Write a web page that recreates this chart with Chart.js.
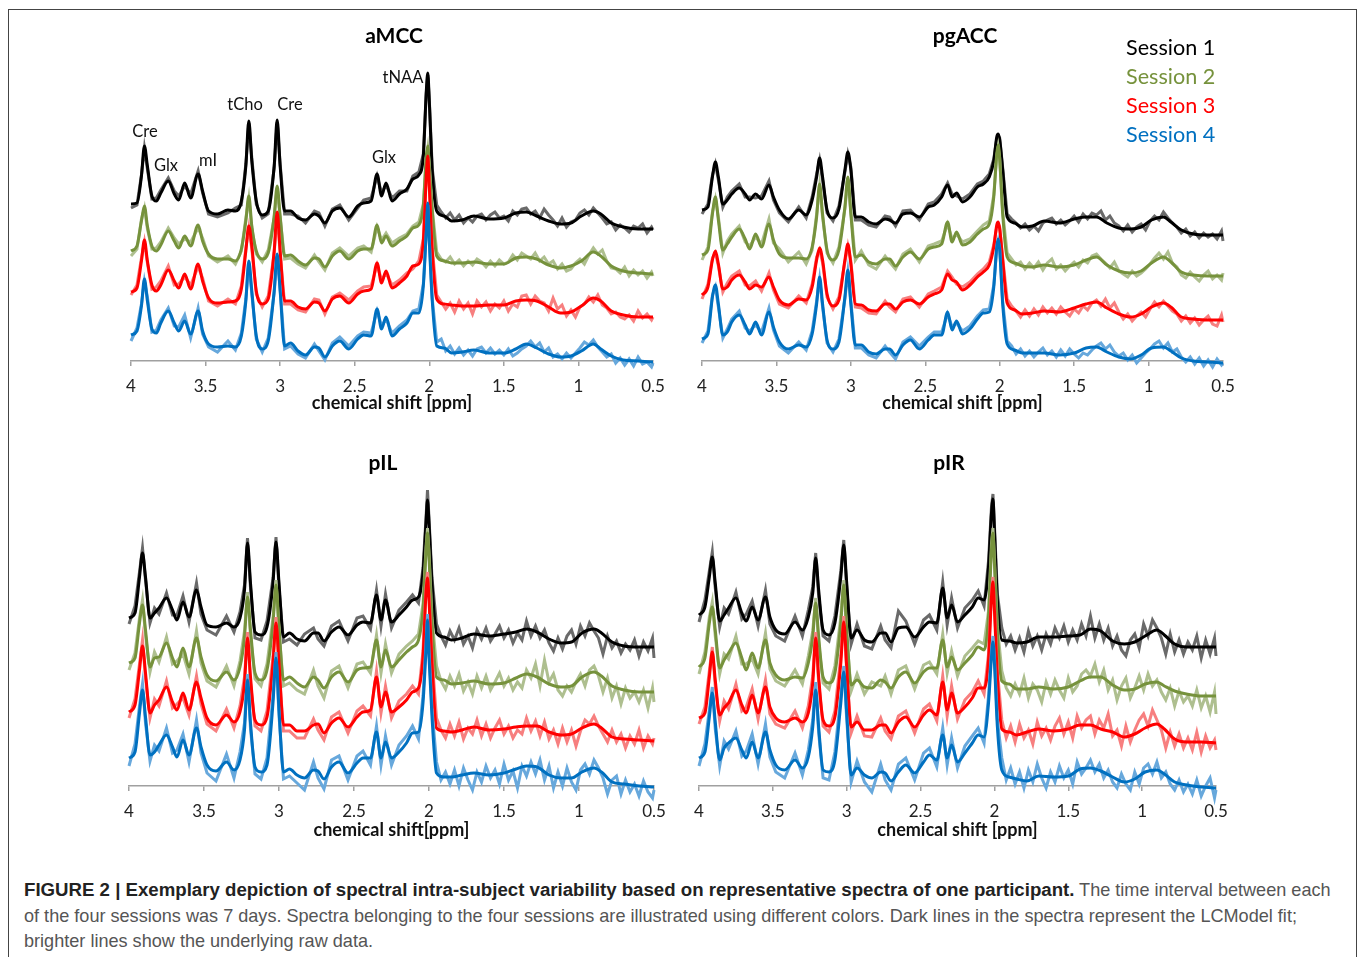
<!DOCTYPE html>
<html>
<head>
<meta charset="utf-8">
<title>Figure 2</title>
<script src="https://cdn.jsdelivr.net/npm/chart.js@4"></script>
<style>
html, body { margin: 0; padding: 0; background: #fff; width: 1358px; height: 957px; overflow: hidden; }
#frame { position: absolute; left: 8px; top: 9px; width: 1347px; height: 970px; border: 1px solid #444; }
canvas { position: absolute; }
.txt { position: absolute; font-family: Lato, sans-serif; color: #111; white-space: nowrap; transform: translate(-50%, -50%); }
.ttl { font-size: 21px; font-weight: bold; color: #000; }
.ann { font-size: 16.5px; }
.leg { font-size: 21.6px; transform: translate(0, -50%); }
#caption { position: absolute; left: 24px; top: 877px; width: 1320px; font-family: "Liberation Sans", Arial, sans-serif; font-size: 18.1px; line-height: 25.5px; color: #555; }
#caption b { color: #222; font-size: 18.65px; }
</style>
</head>
<body>
<div id="frame"></div>
<canvas id="c_aMCC"></canvas>
<canvas id="c_pgACC"></canvas>
<canvas id="c_pIL"></canvas>
<canvas id="c_pIR"></canvas>

<div class="txt ttl" style="left:394px;top:34px">aMCC</div>
<div class="txt ttl" style="left:965px;top:34px">pgACC</div>
<div class="txt ttl" style="left:383px;top:461px">pIL</div>
<div class="txt ttl" style="left:949px;top:461px">pIR</div>

<div class="txt ann" style="left:145px;top:131px">Cre</div>
<div class="txt ann" style="left:166px;top:165px">Glx</div>
<div class="txt ann" style="left:208px;top:160px">mI</div>
<div class="txt ann" style="left:245px;top:104px">tCho</div>
<div class="txt ann" style="left:290px;top:104px">Cre</div>
<div class="txt ann" style="left:384px;top:157px">Glx</div>
<div class="txt ann" style="left:403px;top:77px">tNAA</div>

<div class="txt leg" style="left:1126px;top:47px;color:#000">Session 1</div>
<div class="txt leg" style="left:1126px;top:76px;color:#76923c">Session 2</div>
<div class="txt leg" style="left:1126px;top:105px;color:#ff0000">Session 3</div>
<div class="txt leg" style="left:1126px;top:134px;color:#0070c0">Session 4</div>

<div id="caption"><b>FIGURE 2 | Exemplary depiction of spectral intra-subject variability based on representative spectra of one participant.</b> The time interval between each<br>of the four sessions was 7 days. Spectra belonging to the four sessions are illustrated using different colors. Dark lines in the spectra represent the LCModel fit;<br>brighter lines show the underlying raw data.</div>

<script>
// chemical shift positions, picked denser around the peaks
var fitPpm = [4.0,3.96,3.93,3.91,3.89,3.86,3.83,3.8,3.75,3.71,3.68,3.64,3.6,3.55,3.52,
    3.48,3.42,3.35,3.3,3.26,3.23,3.21,3.19,3.16,3.12,3.08,3.04,3.02,3.0,2.97,
    2.93,2.88,2.83,2.77,2.74,2.7,2.65,2.6,2.54,2.48,2.44,2.39,2.35,2.32,2.29,
    2.25,2.2,2.15,2.11,2.07,2.04,2.02,2.01,2.0,1.98,1.95,1.9,1.85,1.78,1.7,
    1.6,1.5,1.42,1.35,1.28,1.2,1.12,1.05,0.98,0.9,0.85,0.78,0.7,0.6,0.5];
var rawPpm = [4.0,3.96,3.93,3.91,3.89,3.86,3.83,3.8,3.75,3.71,3.68,3.64,3.6,3.55,3.52,
    3.48,3.42,3.35,3.3,3.26,3.23,3.21,3.19,3.16,3.12,3.08,3.04,3.02,3.0,2.97,
    2.93,2.88,2.83,2.77,2.74,2.7,2.65,2.6,2.54,2.48,2.44,2.39,2.35,2.32,2.29,
    2.25,2.2,2.15,2.11,2.07,2.04,2.02,2.01,2.0,1.98,
    1.95,1.92,1.89,1.86,1.83,1.8,1.77,1.74,1.71,1.68,
    1.65,1.62,1.59,1.56,1.53,1.5,1.47,1.44,1.41,1.38,
    1.35,1.32,1.29,1.26,1.23,1.2,1.17,1.14,1.11,1.08,
    1.05,1.02,0.99,0.96,0.93,0.9,0.87,0.84,0.81,0.78,
    0.75,0.72,0.69,0.66,0.63,0.6,0.57,0.54,0.51,0.5];
var xTicks = [4,3.5,3,2.5,2,1.5,1,0.5];
var sessions = ["Session 1","Session 2","Session 3","Session 4"];
var fitColors = ["#000000","#76923c","#ff0000","#0070c0"];
var rawColors = ["#6a6a6a","#aebf8f","#f77f7f","#67a8dc"];

// aMCC
var aMCC_fit1 = [157,158,185,215,195,165,160,168,180,167,161,178,163,187,170,
    150,147,151,150,160,195,240,200,160,146,150,195,241,195,150,
    150,143,141,147,145,138,150,153,144,155,158,160,187,165,178,
    160,167,172,182,186,205,270,288,260,190,150,145,140,141,145,
    142,143,148,149,145,140,137,138,145,150,147,138,134,132,132];
var aMCC_raw1 = [153,156,186,213,192,162,163,171,183,170,165,175,167,190,168,
    147,144,148,153,156,197,238,203,157,143,147,193,239,197,147,
    147,145,138,150,148,135,152,156,141,153,161,163,185,168,176,
    163,170,170,185,189,207,268,286,262,192,
    156,149,143,148,141,146,138,143,139,145,
    147,141,146,149,143,145,140,150,146,152,
    153,147,150,143,152,146,141,135,143,134,
    139,141,148,151,146,153,148,143,137,139,
    131,136,133,129,135,133,137,128,134,131];
var aMCC_fit2 = [110,115,140,155,135,115,110,116,130,120,113,125,115,136,120,
    107,102,102,100,112,140,165,135,110,102,108,145,175,145,105,
    106,100,96,103,102,94,105,110,102,110,112,112,136,118,125,
    115,120,125,133,136,155,205,215,195,150,105,100,98,98,99,
    97,97,103,104,102,96,93,95,100,109,105,95,90,88,87];
var aMCC_raw2 = [105,112,142,153,132,112,113,119,133,123,117,122,119,133,123,
    105,99,105,97,110,143,163,133,107,99,111,143,173,143,102,
    103,97,93,106,99,91,108,113,105,113,115,109,134,121,128,
    118,123,127,135,139,157,203,213,197,152,
    109,102,99,104,97,101,95,100,96,102,
    99,94,100,95,101,97,99,106,101,108,
    105,102,108,100,104,97,100,92,97,90,
    92,98,102,97,106,113,107,111,100,93,
    92,88,94,85,91,86,90,83,89,85];
var aMCC_fit3 = [69,73,100,121,100,76,70,76,91,80,73,87,72,97,80,
    63,58,59,60,72,110,135,115,70,57,62,110,149,110,60,
    60,54,52,59,58,50,62,65,58,67,70,72,98,78,90,
    73,78,85,95,97,120,185,205,175,110,62,57,56,55,55,
    56,56,60,61,60,54,48,49,55,63,60,50,46,44,44];
var aMCC_raw3 = [66,76,103,119,98,72,74,80,95,76,77,84,76,94,83,
    60,55,62,57,75,113,133,112,67,54,65,108,147,108,57,
    57,51,49,62,61,47,64,68,61,70,74,75,96,81,88,
    76,81,88,92,100,122,183,203,177,112,
    66,59,52,58,49,60,52,58,47,60,
    54,59,50,57,53,60,50,57,54,65,
    66,57,65,60,58,50,63,52,56,45,
    51,44,54,57,64,59,66,56,53,47,
    49,44,42,46,40,50,43,47,41,44];
var aMCC_fit4 = [26,30,55,82,60,32,28,38,50,38,30,40,27,50,30,
    17,14,15,14,25,60,100,70,25,12,20,70,107,70,15,
    18,10,6,14,13,4,15,20,12,22,26,25,52,32,44,
    25,32,38,48,48,75,130,158,120,60,15,13,8,9,11,
    8,8,12,17,13,7,4,5,10,17,12,5,1,0,-1];
var aMCC_raw4 = [20,33,57,80,64,29,31,41,53,35,34,46,23,53,27,
    14,9,20,11,28,62,98,67,22,9,23,68,105,72,12,
    15,7,3,17,10,1,18,24,15,25,29,28,50,35,42,
    28,35,41,50,52,77,128,156,122,62,
    19,22,10,15,7,13,6,11,5,12,
    14,8,13,7,11,6,12,5,8,12,
    15,20,14,18,9,13,4,7,2,8,
    3,8,13,19,16,21,14,9,4,7,
    -2,3,-4,2,-5,4,-3,-1,-6,-2];

// pgACC
var pgACC_fit1 = [151,154,184,199,184,157,161,167,173,167,161,167,162,176,164,
    151,142,151,146,161,184,203,184,151,143,152,191,209,191,144,
    144,139,137,142,141,138,147,148,144,154,156,164,176,164,168,
    159,164,174,177,184,200,224,227,221,191,144,138,134,135,140,
    138,142,144,144,138,133,132,134,141,144,139,131,127,126,126];
var pgACC_raw1 = [147,157,186,197,181,154,164,170,177,164,164,163,165,180,161,
    148,139,154,143,164,187,201,181,148,140,155,189,207,194,141,
    141,136,134,145,144,135,150,151,141,157,159,167,178,167,165,
    162,167,177,180,187,202,222,225,223,193,
    147,142,138,133,137,131,135,130,138,141,
    143,137,141,136,140,145,139,147,142,148,
    146,150,141,145,138,135,130,136,129,134,
    137,131,140,145,141,149,143,138,134,128,
    132,125,129,123,128,124,127,122,130,120];
var pgACC_fit2 = [106,111,147,164,141,111,117,124,132,122,112,127,114,137,121,
    107,103,103,102,114,144,177,147,111,101,111,154,184,147,104,
    106,99,97,102,102,95,104,109,102,112,114,117,139,119,129,
    116,119,127,132,137,164,207,216,201,147,104,98,95,94,96,
    94,96,101,104,96,90,88,90,98,104,99,89,86,85,85];
var pgACC_raw2 = [101,114,149,162,144,108,120,127,135,119,115,124,117,142,118,
    112,99,109,97,111,147,175,144,108,98,114,152,182,150,101,
    110,96,92,105,99,92,107,112,99,115,117,120,137,122,127,
    119,122,130,136,140,166,205,214,203,149,
    108,102,96,99,92,98,93,99,91,98,
    102,92,96,90,95,99,94,101,98,105,
    107,102,98,93,99,90,87,84,90,85,
    88,92,97,103,108,102,109,98,94,86,
    83,89,84,80,86,90,82,86,81,88];
var pgACC_fit3 = [66,74,101,110,97,72,74,81,86,79,72,76,74,84,74,
    61,56,62,61,74,101,113,101,67,55,61,101,117,97,57,
    56,51,50,57,57,52,59,61,57,64,67,71,87,81,79,
    71,76,84,89,96,114,136,139,132,101,58,51,47,48,50,
    49,53,57,59,53,47,44,47,54,58,54,44,42,41,41];
var pgACC_raw3 = [62,77,103,108,95,69,78,85,90,76,75,80,70,88,71,
    57,53,65,58,77,104,111,98,64,52,64,99,115,100,54,
    53,48,47,60,54,49,62,64,54,67,70,74,90,84,77,
    74,79,87,92,99,116,134,137,134,103,
    62,55,50,44,51,45,52,46,54,48,
    53,47,54,49,45,52,48,55,51,58,
    61,55,62,53,58,49,42,47,40,45,
    49,44,52,59,54,60,55,50,47,40,
    45,38,43,36,41,45,37,35,46,39];
var pgACC_fit4 = [22,27,64,76,57,26,29,39,46,36,27,39,26,49,34,
    19,12,16,14,27,57,84,57,21,12,19,64,91,57,16,
    16,9,7,12,12,6,16,21,12,21,26,26,49,31,40,
    27,32,42,48,49,74,114,122,111,57,17,11,8,8,8,
    6,8,13,14,9,4,2,6,13,14,10,3,0,-1,-2];
var pgACC_raw4 = [18,30,66,74,54,23,32,42,50,33,30,36,29,53,31,
    15,8,19,11,30,60,82,54,18,9,22,62,89,60,13,
    13,6,3,15,9,2,19,24,15,24,29,29,47,34,38,
    30,35,45,51,52,76,112,120,113,59,
    20,15,7,12,5,10,4,9,13,6,
    10,4,11,5,12,7,3,8,6,11,
    15,18,12,16,9,5,8,1,6,-2,
    3,8,12,17,20,13,18,9,12,4,
    -1,4,-3,3,-5,1,-6,2,-4,-2];

// pIL
var pIL_fit1 = [168,173,209,233,209,168,173,178,188,176,166,184,169,196,179,
    161,159,163,159,168,196,243,203,154,151,159,203,244,203,149,
    153,147,145,153,153,145,154,159,151,161,164,163,191,166,186,
    164,171,179,186,189,213,263,286,263,203,153,149,146,148,152,
    150,152,154,157,154,147,143,144,153,157,153,144,140,139,139];
var pIL_raw1 = [162,180,214,238,206,163,178,172,193,171,171,190,164,203,172,
    156,151,170,154,174,201,248,198,148,146,165,208,249,198,144,
    147,141,152,158,147,140,160,165,145,168,170,157,196,160,192,
    158,176,184,191,183,218,268,296,268,208,
    162,150,141,155,146,158,142,150,138,156,
    147,158,145,152,160,148,156,143,153,146,
    165,150,160,148,156,143,135,148,137,150,
    156,142,160,150,163,155,148,132,150,138,
    145,133,142,136,146,130,144,135,148,128];
var pIL_fit2 = [123,128,163,181,156,119,128,129,143,128,119,138,119,148,129,
    111,105,114,106,119,149,189,156,113,106,116,163,201,159,106,
    109,103,99,109,106,98,109,114,104,116,118,119,146,119,136,
    119,126,134,139,146,176,233,253,229,163,109,106,102,103,105,
    102,103,108,112,109,102,99,100,109,114,110,100,96,94,94];
var pIL_raw2 = [116,133,168,186,151,114,134,124,149,122,125,132,112,155,123,
    105,99,120,100,125,155,194,150,107,100,122,168,206,154,100,
    103,96,92,116,100,88,115,120,98,122,124,113,151,113,142,
    113,132,140,145,152,182,238,258,234,168,
    120,105,97,110,100,112,95,104,92,110,
    98,110,96,104,113,100,108,96,104,98,
    116,108,122,100,126,104,112,96,90,100,
    94,104,112,100,116,120,110,94,108,88,
    100,82,98,88,94,84,96,78,98,84];
var pIL_fit3 = [74,81,116,140,113,73,81,86,99,84,76,93,76,104,88,
    68,61,71,64,74,103,148,109,66,61,69,123,163,123,61,
    61,55,55,61,62,53,63,68,59,69,74,76,109,79,94,
    74,79,86,94,98,129,193,208,186,123,58,55,54,56,59,
    56,57,59,60,60,54,51,52,58,62,58,49,47,46,45];
var pIL_raw3 = [68,87,122,146,108,68,87,80,105,78,82,88,71,110,82,
    62,55,77,58,80,109,154,103,60,55,75,129,169,117,55,
    55,48,48,67,56,46,69,74,53,75,80,70,115,73,100,
    68,85,92,100,92,135,199,214,192,129,
    68,56,48,62,50,64,47,58,52,66,
    50,62,48,58,66,52,60,48,56,52,
    68,55,65,50,64,47,56,42,58,44,
    56,40,55,66,62,70,60,52,44,56,
    44,52,38,50,42,56,38,50,42,48];
var pIL_fit4 = [28,34,73,96,69,31,34,41,51,39,29,46,31,58,39,
    21,15,24,16,26,56,106,63,19,14,21,83,128,76,14,
    17,11,8,16,15,7,19,24,13,23,28,28,54,28,44,
    28,34,43,53,54,83,136,166,129,69,13,9,9,11,13,
    11,13,17,20,19,11,8,8,14,18,14,4,2,0,-1];
var pIL_raw4 = [20,42,80,102,63,25,41,35,58,33,36,52,24,66,33,
    13,5,32,8,34,63,112,57,12,7,28,90,134,70,7,
    10,3,-4,24,8,-3,26,30,6,30,35,21,60,21,50,
    21,41,50,60,47,90,142,172,135,76,
    24,6,14,2,16,0,18,6,-4,14,
    4,20,8,16,2,22,6,15,-2,20,
    10,24,12,26,6,20,-2,14,0,18,
    4,-4,16,22,12,26,18,8,-8,6,
    10,-8,6,-6,2,-10,5,-6,-12,-4];

// pIR
var pIR_fit1 = [171,179,209,229,203,165,171,178,188,173,165,179,166,189,169,
    156,152,164,156,169,193,228,196,156,151,163,209,241,203,148,
    156,146,144,153,153,144,158,159,149,159,164,163,198,168,181,
    164,171,179,188,186,219,273,287,256,186,146,145,143,144,149,
    149,150,151,157,155,145,142,144,150,156,151,142,139,139,139];
var pIR_raw1 = [164,186,215,234,198,159,178,172,194,167,172,185,160,196,162,
    150,145,170,150,176,199,233,190,150,145,170,215,246,198,142,
    162,140,137,160,146,138,175,165,142,166,171,156,204,161,188,
    158,178,186,195,180,225,279,292,261,192,
    158,142,150,136,148,134,155,140,150,136,
    152,142,158,148,160,144,156,146,162,150,
    170,148,162,146,158,140,150,136,130,146,
    152,138,162,150,166,158,148,132,152,134,
    146,132,144,136,150,128,146,132,148,130];
var pIR_fit2 = [119,128,163,179,156,118,126,133,143,128,116,133,118,146,123,
    111,106,109,108,123,149,183,149,109,103,113,163,201,156,101,
    106,99,98,106,104,98,109,114,103,114,118,118,146,119,129,
    116,123,131,139,136,169,236,253,223,153,105,102,97,97,99,
    97,99,105,109,109,101,96,97,102,104,100,95,92,90,90];
var pIR_raw2 = [112,134,169,184,150,112,132,127,150,122,122,127,112,153,117,
    105,100,116,102,130,155,188,143,103,97,120,169,206,150,95,
    112,92,104,100,110,92,116,120,97,121,124,112,152,113,135,
    110,130,138,145,142,175,242,258,228,159,
    115,98,90,102,92,108,88,102,96,84,
    104,92,106,96,88,108,94,100,112,116,
    110,122,104,116,96,106,86,100,108,88,
    98,110,96,112,100,106,94,86,98,80,
    95,84,90,80,96,78,90,74,94,72];
var pIR_fit3 = [68,73,109,134,106,71,78,83,96,81,73,91,73,99,79,
    68,64,68,64,73,103,148,109,66,60,69,123,164,119,59,
    64,56,56,61,61,53,64,69,59,71,76,71,104,76,93,
    73,79,88,98,98,126,189,204,176,109,57,54,51,54,57,
    55,57,61,61,57,54,49,52,58,62,57,47,44,44,43];
var pIR_raw3 = [62,79,115,139,100,65,85,77,102,75,79,97,67,106,72,
    62,58,75,58,80,110,154,103,60,54,75,130,170,113,53,
    70,50,49,68,55,47,70,75,53,77,82,65,110,70,100,
    67,86,94,105,92,132,195,209,182,115,
    66,48,60,44,62,48,56,42,64,50,
    58,46,60,68,52,64,48,70,58,66,
    70,52,66,58,72,50,56,40,60,44,
    56,66,72,60,76,66,56,38,54,40,
    52,38,48,36,54,34,50,38,46,36];
var pIR_fit4 = [28,34,69,93,64,26,38,43,48,36,28,44,28,54,36,
    21,16,26,18,29,59,96,59,16,14,26,83,114,73,11,
    18,11,8,14,13,5,14,21,13,24,31,26,51,28,41,
    24,33,43,51,49,83,129,144,123,59,16,9,7,5,10,
    9,10,17,18,15,9,4,7,14,16,12,4,1,-1,-2];
var pIR_raw4 = [20,42,76,99,57,20,45,37,55,30,35,52,22,62,29,
    14,8,33,11,36,66,104,53,8,6,34,90,120,66,4,
    25,4,-6,22,6,-4,22,28,6,33,38,19,58,21,48,
    18,40,50,58,43,90,135,150,129,66,
    28,6,18,2,14,-2,16,4,22,8,
    -2,14,4,20,8,16,2,24,12,18,
    26,14,22,8,16,4,-2,12,2,-4,
    14,2,18,22,12,24,8,14,2,-4,
    6,-6,2,-8,6,-10,0,8,-12,-4];

var PAD = 22; // room left and right of the axis for the end tick labels

function zip(xs, ys) {
    return xs.map(function (x, i) { return { x: x, y: ys[i] }; });
}

function drawPanel(id, left, right, top, baseline, axisH, xTitle, fits, raws) {
    var canvas = document.getElementById(id);
    var w = right - left + 2 * PAD;
    var h = baseline - top + axisH;
    canvas.width = w;
    canvas.height = h;
    canvas.style.left = (left - PAD) + "px";
    canvas.style.top = top + "px";
    canvas.style.width = w + "px";
    canvas.style.height = h + "px";

    // raw goes under its fit, later sessions over earlier ones
    var datasets = [];
    sessions.forEach(function (name, s) {
        datasets.push({
            label: name + " raw", data: zip(rawPpm, raws[s]), borderColor: rawColors[s],
            borderWidth: 3, pointRadius: 0, tension: 0, clip: false, order: 100 - 2 * s
        });
        datasets.push({
            label: name + " fit", data: zip(fitPpm, fits[s]), borderColor: fitColors[s],
            borderWidth: 3, pointRadius: 0, cubicInterpolationMode: "monotone", clip: false, order: 99 - 2 * s
        });
    });

    new Chart(canvas, {
        type: "line",
        data: { datasets: datasets },
        options: {
            responsive: false,
            animation: false,
            layout: { padding: { left: PAD, right: PAD, top: 0, bottom: 0 } },
            plugins: { legend: { display: false }, title: { display: false }, tooltip: { enabled: false } },
            scales: {
                x: {
                    type: "linear", reverse: true, min: 0.5, max: 4,
                    afterBuildTicks: function (axis) {
                        axis.ticks = xTicks.map(function (v) { return { value: v }; });
                    },
                    afterFit: function (axis) {
                        axis.paddingLeft = 0;
                        axis.paddingRight = 0;
                        axis.height = axisH;
                    },
                    border: { color: "#a0a0a0", width: 1.5 },
                    grid: { drawOnChartArea: false, drawTicks: true, tickLength: 5, color: "#a0a0a0", lineWidth: 1.5 },
                    ticks: {
                        color: "#222", padding: 10, maxRotation: 0, autoSkip: false,
                        font: { family: "Lato", size: 17 },
                        callback: function (v) { return String(v); }
                    },
                    title: {
                        display: true, text: xTitle, color: "#111", padding: { top: 0, bottom: 0 },
                        font: { family: "Lato", size: 18, weight: "bold" }
                    }
                },
                y: { display: false, min: 0, max: baseline - top }
            }
        }
    });
}

drawPanel("c_aMCC", 131, 653, 20, 361, 53, "chemical shift [ppm]",
    [aMCC_fit1, aMCC_fit2, aMCC_fit3, aMCC_fit4], [aMCC_raw1, aMCC_raw2, aMCC_raw3, aMCC_raw4]);
drawPanel("c_pgACC", 702, 1223, 20, 361, 53, "chemical shift [ppm]",
    [pgACC_fit1, pgACC_fit2, pgACC_fit3, pgACC_fit4], [pgACC_raw1, pgACC_raw2, pgACC_raw3, pgACC_raw4]);
drawPanel("c_pIL", 129, 654, 440, 786, 55, "chemical shift[ppm]",
    [pIL_fit1, pIL_fit2, pIL_fit3, pIL_fit4], [pIL_raw1, pIL_raw2, pIL_raw3, pIL_raw4]);
drawPanel("c_pIR", 699, 1216, 440, 786, 55, "chemical shift [ppm]",
    [pIR_fit1, pIR_fit2, pIR_fit3, pIR_fit4], [pIR_raw1, pIR_raw2, pIR_raw3, pIR_raw4]);
</script>
</body>
</html>
